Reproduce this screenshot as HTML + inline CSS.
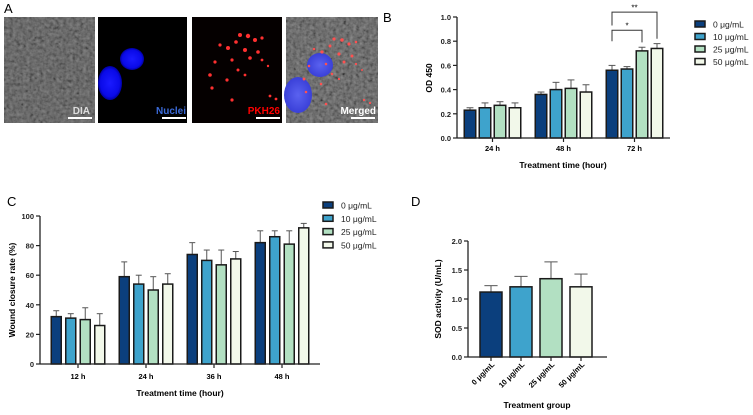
<!DOCTYPE html>
<html><head><meta charset="utf-8"><style>
html,body{margin:0;padding:0;background:#fff;width:753px;height:415px;overflow:hidden}
svg text{font-family:"Liberation Sans",Arial,sans-serif}
</style></head><body>
<svg id="fig" width="753" height="415" viewBox="0 0 753 415" xmlns="http://www.w3.org/2000/svg">
<defs>
<filter id="noise" x="0" y="0" width="100%" height="100%">
<feTurbulence type="fractalNoise" baseFrequency="0.3" numOctaves="2" seed="3" result="t"/>
<feColorMatrix type="matrix" values="0.33 0.33 0.33 0 0  0.33 0.33 0.33 0 0  0.33 0.33 0.33 0 0  0 0 0 0 1"/>
<feComponentTransfer><feFuncR type="linear" slope="1.3" intercept="-0.3"/><feFuncG type="linear" slope="1.3" intercept="-0.3"/><feFuncB type="linear" slope="1.3" intercept="-0.3"/></feComponentTransfer>
</filter>
<radialGradient id="nuc"><stop offset="0" stop-color="#1a1aff"/><stop offset="0.8" stop-color="#0a0ae8"/><stop offset="1" stop-color="#0000a0"/></radialGradient>
<radialGradient id="nuc2"><stop offset="0" stop-color="#5a62f0"/><stop offset="1" stop-color="#3a40d8"/></radialGradient>
</defs>
<g id="panelA">
<text x="4" y="13" font-size="13">A</text>
<g>
<rect x="4" y="17" width="91" height="106" fill="#777" filter="url(#noise)"/>
<rect x="4" y="17" width="91" height="106" fill="#404040" opacity="0.55"/>
<text x="90" y="114" font-size="10" font-weight="bold" fill="#ddd" text-anchor="end">DIA</text>
<rect x="68" y="117" width="24" height="2" fill="#fff"/>
</g>
<g>
<rect x="98" y="17" width="89" height="106" fill="#000"/>
<ellipse cx="132" cy="59" rx="12" ry="11" fill="url(#nuc)"/>
<ellipse cx="110" cy="83" rx="12" ry="17" fill="url(#nuc)"/>
<text x="186" y="114" font-size="10" font-weight="bold" fill="#3a6ad8" text-anchor="end">Nuclei</text>
<rect x="162" y="117" width="24" height="2" fill="#fff"/>
</g>
<g>
<rect x="192" y="17" width="90" height="106" fill="#050000"/>
<g id="reddots" fill="#ff3030"></g>
<text x="280" y="114" font-size="10" font-weight="bold" fill="#f00" text-anchor="end">PKH26</text>
<rect x="256" y="117" width="24" height="2" fill="#fff"/>
</g>
<g>
<rect x="286" y="17" width="92" height="106" fill="#777" filter="url(#noise)"/>
<rect x="286" y="17" width="92" height="106" fill="#404040" opacity="0.5"/>
<ellipse cx="320" cy="65" rx="13" ry="12" fill="url(#nuc2)"/>
<ellipse cx="298" cy="95" rx="14" ry="18" fill="url(#nuc2)"/>
<g id="reddots2" fill="#ff5050"></g>
<text x="376" y="114" font-size="10" font-weight="bold" fill="#fff" text-anchor="end">Merged</text>
<rect x="351" y="117" width="24" height="2" fill="#fff"/>
</g>
</g>
<g id="charts"></g>
</svg>
<script>
const NS="http://www.w3.org/2000/svg";
const colors=["#0b3f7d","#3ea3cc","#b2e0c2","#f2f8ea"];
const legendLabels=["0 μg/mL","10 μg/mL","25 μg/mL","50 μg/mL"];
// Panel B data
const bCategories=["24 h","48 h","72 h"];
const bMeans=[[0.23,0.36,0.56],[0.25,0.40,0.57],[0.27,0.41,0.72],[0.25,0.38,0.74]];
const bErr=[[0.02,0.02,0.04],[0.04,0.06,0.02],[0.03,0.07,0.03],[0.04,0.06,0.04]];
const bTicks=[0,0.2,0.4,0.6,0.8,1.0];
// Panel C data
const cCategories=["12 h","24 h","36 h","48 h"];
const cMeans=[[32,59,74,82],[31,54,70,86],[30,50,67,81],[26,54,71,92]];
const cErr=[[4,10,8,8],[3,6,7,4],[8,9,10,9],[8,7,5,3]];
const cTicks=[0,20,40,60,80,100];
// Panel D data
const dCategories=["0 μg/mL","10 μg/mL","25 μg/mL","50 μg/mL"];
const dMeans=[1.12,1.21,1.35,1.21];
const dErr=[0.11,0.18,0.29,0.22];
const dTicks=[0,0.5,1.0,1.5,2.0];
// microscopy dots (decorative)
const dots=[[240,35,2],[248,36,2.2],[236,42,1.8],[255,40,2],[262,38,1.6],[228,48,2],[245,50,2],[258,52,1.8],[220,45,1.6],[232,60,1.6],[250,58,1.8],[215,62,1.6],[238,70,1.5],[210,75,1.8],[227,80,1.6],[212,88,1.6],[245,75,1.4],[262,60,1.4],[232,100,1.6],[270,96,1.4],[276,99,1.4],[268,66,1.2]];
function el(tag,attrs,parent,txt){const e=document.createElementNS(NS,tag);for(const k in attrs)e.setAttribute(k,attrs[k]);if(txt!==undefined)e.textContent=txt;parent.appendChild(e);return e;}
const rd=document.getElementById('reddots'),rd2=document.getElementById('reddots2');
dots.forEach(d=>{const c=el('circle',{cx:d[0],cy:d[1],r:d[2]},rd);


const c2=el('circle',{cx:d[0]+94,cy:d[1]+4,r:d[2]*0.8},rd2);

});
const root=document.getElementById('charts');

function axisY(g,x,y0,y1,vmin,vmax,ticks,fmt,fs){
  const sc=v=>y0-(v-vmin)/(vmax-vmin)*(y0-y1);
  el('line',{x1:x,y1:y0,x2:x,y2:y1,stroke:'#222','stroke-width':1.3},g);
  ticks.forEach(t=>{const y=sc(t);el('line',{x1:x-4,y1:y,x2:x,y2:y,stroke:'#222','stroke-width':1.2},g);
    const tx=el('text',{x:x-6,y:y+3,'font-size':fs,'font-weight':'bold','text-anchor':'end',fill:'#222'},g,fmt(t));
    
    });
  return sc;
}
function bar(g,cx,w,top,base,col,err,sc,val){
  const eTop=sc(val+err);
  el('line',{x1:cx,y1:top,x2:cx,y2:eTop,stroke:'#555','stroke-width':1},g);
  el('line',{x1:cx-w*0.3,y1:eTop,x2:cx+w*0.3,y2:eTop,stroke:'#555','stroke-width':1},g);
  return el('rect',{x:cx-w/2,y:top,width:w,height:base-top,fill:col,stroke:'#1a1a1a','stroke-width':1.5},g);
}
function legend(g,x,y,dy,fs){
  legendLabels.forEach((l,i)=>{
    const r=el('rect',{x:x,y:y+i*dy-3,width:10,height:6,fill:colors[i],stroke:'#1a1a1a','stroke-width':1.5},g);
    
    
    const t=el('text',{x:x+18,y:y+i*dy+3.5,'font-size':fs,fill:'#222'},g,l);
    
    
  });
}

// Panel B
(function(){
  const g=el('g',{},root);
  
  
  el('text',{x:383,y:22,'font-size':13},g,'B');
  const x0=457,xEnd=670,y0=138,y1=17;
  const sc=axisY(g,x0,y0,y1,0,1,bTicks,t=>t.toFixed(1),7.5);
  const yt=el('text',{transform:'translate(432,78) rotate(-90)','font-size':8.5,'font-weight':'bold','text-anchor':'middle'},g,'OD 450');
  
  
  const step=(xEnd-x0)/bCategories.length, bw=11.5, gap=15;
  bCategories.forEach((c,ci)=>{
    const cx=x0+step*(ci+0.5);
    for(let s=0;s<4;s++){
      const bx=cx+(s-1.5)*gap;
      const r=bar(g,bx,bw,sc(bMeans[s][ci]),y0,colors[s],bErr[s][ci],sc,bMeans[s][ci]);
      
      
    }
    el('line',{x1:cx,y1:y0,x2:cx,y2:y0+4,stroke:'#222','stroke-width':1.2},g);
    const t=el('text',{x:cx,y:y0+13,'font-size':7.5,'font-weight':'bold','text-anchor':'middle'},g,c);
    
    
  });
  el('line',{x1:x0,y1:y0,x2:xEnd,y2:y0,stroke:'#222','stroke-width':1.3},g);
  const xt=el('text',{x:563,y:168,'font-size':8.5,'font-weight':'bold','text-anchor':'middle'},g,'Treatment time (hour)');
  
  
  const cx=x0+step*2.5;const b0=cx-1.5*gap,b2=cx+0.5*gap,b3=cx+1.5*gap;
  const s1=el('path',{d:`M${b0},${sc(0.80)} V${sc(0.89)} H${b2} V${sc(0.79)}`,fill:'none',stroke:'#333','stroke-width':1},g);
  
  
  el('text',{x:(b0+b2)/2,y:sc(0.905),'font-size':8,'text-anchor':'middle'},g,'*');
  const s2=el('path',{d:`M${b0},${sc(0.93)} V${sc(1.04)} H${b3} V${sc(0.82)}`,fill:'none',stroke:'#333','stroke-width':1},g);
  
  
  el('text',{x:(b0+b3)/2,y:sc(1.055),'font-size':8,'text-anchor':'middle'},g,'**');
  legend(g,695,24,12.5,8.5);
})();

// Panel C
(function(){
  const g=el('g',{},root);
  
  
  el('text',{x:7,y:206,'font-size':13},g,'C');
  const x0=40,xEnd=320,y0=364,y1=216;
  const sc=axisY(g,x0,y0,y1,0,100,cTicks,t=>String(t),7.5);
  const yt=el('text',{transform:'translate(15,290) rotate(-90)','font-size':8.5,'font-weight':'bold','text-anchor':'middle'},g,'Wound closure rate (%)');
  
  
  const step=68, bw=10, gap=14.5, c0=78;
  cCategories.forEach((c,ci)=>{
    const cx=c0+step*ci;
    for(let s=0;s<4;s++){
      const bx=cx+(s-1.5)*gap;
      const r=bar(g,bx,bw,sc(cMeans[s][ci]),y0,colors[s],cErr[s][ci],sc,cMeans[s][ci]);
      
      
    }
    el('line',{x1:cx,y1:y0,x2:cx,y2:y0+4,stroke:'#222','stroke-width':1.2},g);
    const t=el('text',{x:cx,y:y0+15,'font-size':7.5,'font-weight':'bold','text-anchor':'middle'},g,c);
    
    
  });
  el('line',{x1:x0,y1:y0,x2:xEnd,y2:y0,stroke:'#222','stroke-width':1.3},g);
  const xt=el('text',{x:180,y:396,'font-size':8.5,'font-weight':'bold','text-anchor':'middle'},g,'Treatment time (hour)');
  
  
  legend(g,323,205,13.3,8.5);
})();

// Panel D
(function(){
  const g=el('g',{},root);
  
  
  el('text',{x:411,y:206,'font-size':13},g,'D');
  const x0=468,xEnd=607,y0=357,y1=241;
  const sc=axisY(g,x0,y0,y1,0,2,dTicks,t=>t.toFixed(1),7.5);
  const yt=el('text',{transform:'translate(441,299) rotate(-90)','font-size':8.5,'font-weight':'bold','text-anchor':'middle'},g,'SOD activity (U/mL)');
  
  
  const gap=30, bw=22, c0=491;
  dCategories.forEach((c,i)=>{
    const cx=c0+i*gap;
    const r=bar(g,cx,bw,sc(dMeans[i]),y0,colors[i],dErr[i],sc,dMeans[i]);
    
    
    el('line',{x1:cx,y1:y0,x2:cx,y2:y0+4,stroke:'#222','stroke-width':1.2},g);
    const t=el('text',{transform:`translate(${cx+4},${y0+8}) rotate(-45)`,'font-size':7.5,'font-weight':'bold','text-anchor':'end'},g,c);
    
    
  });
  el('line',{x1:x0,y1:y0,x2:xEnd,y2:y0,stroke:'#222','stroke-width':1.3},g);
  const xt=el('text',{x:537,y:408,'font-size':8.5,'font-weight':'bold','text-anchor':'middle'},g,'Treatment group');
  
  
})();
</script>
</body></html>
